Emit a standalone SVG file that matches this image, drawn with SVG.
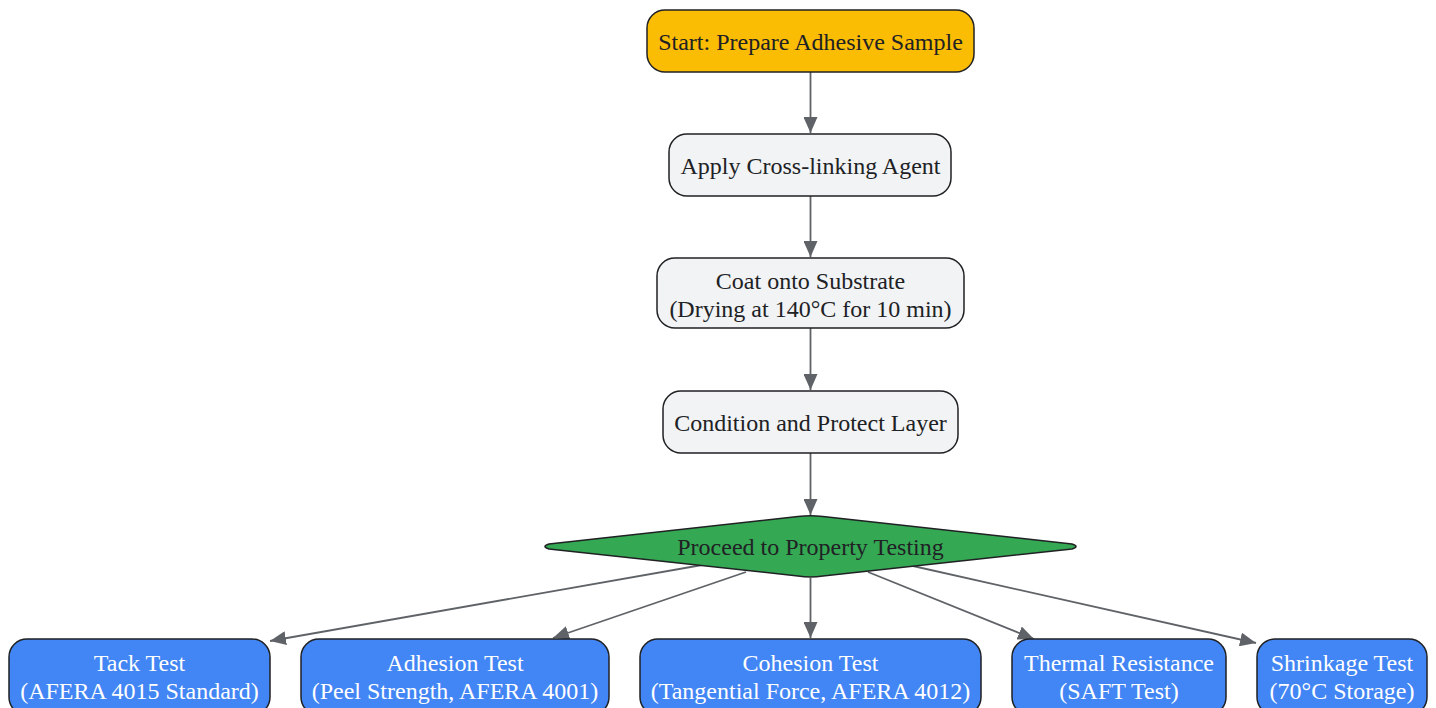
<svg xmlns="http://www.w3.org/2000/svg" width="1436" height="708" viewBox="0 0 1436 708">
<defs>
<style>
text{font-family:"Liberation Serif","Times New Roman",serif;font-size:24px;text-anchor:middle;dominant-baseline:central;fill:#202124}
.w{fill:#ffffff}
.n{stroke:#202124;stroke-width:1.5}
.e{stroke:#5f6368;stroke-width:1.8;fill:none;marker-end:url(#ah)}
</style>
<marker id="ah" viewBox="0 0 16 14" refX="16" refY="7" markerWidth="16" markerHeight="14" markerUnits="userSpaceOnUse" orient="auto">
<path d="M0,0 L16,7 L0,14 z" fill="#5f6368"/>
</marker>
</defs>
<rect width="1436" height="708" fill="#ffffff"/>
<g id="connectors">
<line class="e" x1="810.5" y1="72" x2="810.5" y2="133"/>
<line class="e" x1="810.5" y1="196" x2="810.5" y2="257"/>
<line class="e" x1="810.5" y1="328" x2="810.5" y2="390"/>
<line class="e" x1="810.5" y1="453" x2="810.5" y2="515"/>
<line class="e" x1="702" y1="565" x2="270" y2="641"/>
<line class="e" x1="746" y1="572" x2="553" y2="638"/>
<line class="e" x1="810.5" y1="578" x2="810.5" y2="638"/>
<line class="e" x1="868" y1="572" x2="1034" y2="639"/>
<line class="e" x1="913" y1="566" x2="1256" y2="643"/>
</g>
<g id="start"><rect class="n" x="647" y="10" width="327" height="62" rx="18" fill="#fbbc04"/><text x="810.5" y="42">Start: Prepare Adhesive Sample</text></g>
<g id="apply"><rect class="n" x="669" y="134" width="282" height="62" rx="18" fill="#f1f3f4"/><text x="810.5" y="166">Apply Cross-linking Agent</text></g>
<g id="coat"><rect class="n" x="657" y="258" width="307" height="70" rx="18" fill="#f1f3f4"/><text x="810.5" y="281">Coat onto Substrate</text><text x="810.5" y="309">(Drying at 140°C for 10 min)</text></g>
<g id="condition"><rect class="n" x="663" y="391" width="295" height="62" rx="18" fill="#f1f3f4"/><text x="810.5" y="423">Condition and Protect Layer</text></g>
<g id="decision"><path class="n" d="M798,516.5 Q810.5,515 823,516.5 L1072,544 Q1080,546.5 1072,549 L823,576 Q810.5,578 798,576 L549,549 Q541,546.5 549,544 Z" fill="#34a853"/><text x="810.5" y="547">Proceed to Property Testing</text></g>
<g id="tack"><rect class="n" x="9" y="639" width="261" height="76" rx="18" fill="#4285f4"/><text class="w" x="139.5" y="663">Tack Test</text><text class="w" x="139.5" y="691">(AFERA 4015 Standard)</text></g>
<g id="adhesion"><rect class="n" x="301" y="639" width="308" height="76" rx="18" fill="#4285f4"/><text class="w" x="455" y="663">Adhesion Test</text><text class="w" x="455" y="691">(Peel Strength, AFERA 4001)</text></g>
<g id="cohesion"><rect class="n" x="640" y="639" width="341" height="76" rx="18" fill="#4285f4"/><text class="w" x="810.5" y="663">Cohesion Test</text><text class="w" x="810.5" y="691">(Tangential Force, AFERA 4012)</text></g>
<g id="thermal"><rect class="n" x="1012" y="639" width="214" height="76" rx="18" fill="#4285f4"/><text class="w" x="1119" y="663">Thermal Resistance</text><text class="w" x="1119" y="691">(SAFT Test)</text></g>
<g id="shrinkage"><rect class="n" x="1257" y="639" width="170" height="76" rx="18" fill="#4285f4"/><text class="w" x="1342" y="663">Shrinkage Test</text><text class="w" x="1342" y="691">(70°C Storage)</text></g>
</svg>
